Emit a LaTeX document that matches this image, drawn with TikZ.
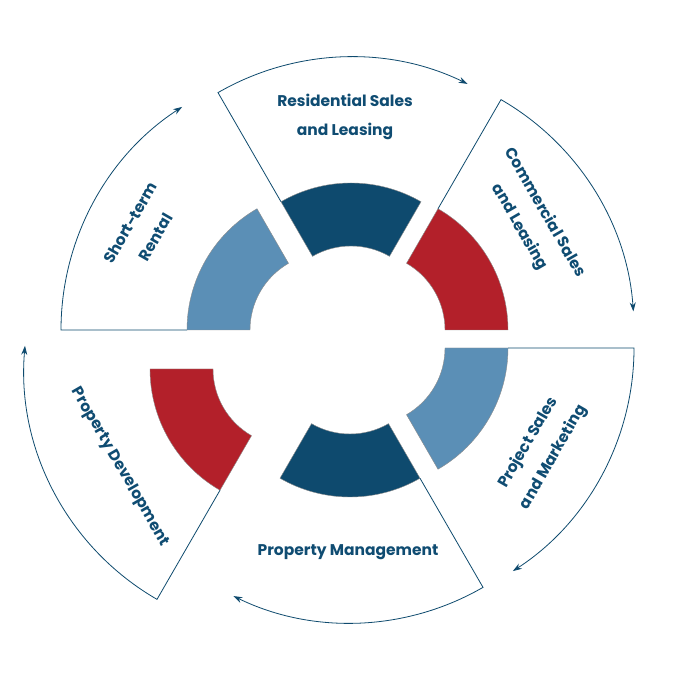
\documentclass[tikz,border=0pt]{standalone}
\usepackage{fontspec}
\setmainfont{Poppins}
\usetikzlibrary{arrows.meta}
\definecolor{dkb}{HTML}{0E4A6E}
\definecolor{rd}{HTML}{B3202A}
\definecolor{lb}{HTML}{5B8FB6}
\definecolor{txt}{HTML}{0F4C72}
\tikzset{
  seg/.style={draw=black!45, line width=0.4pt},
  rim/.style={draw=dkb, line width=0.8pt, -{Stealth[length=9pt,width=6pt]}},
  lab/.style={text=txt, font=\fontsize{15.5}{29}\selectfont\bfseries, align=center, inner sep=0pt}
}
\newcommand{\grp}[7]{% cx cy a1 a2 colour linestart arcend
  \begin{scope}[shift={(#1,#2)}]
    \fill[#5,seg] (#3:140) arc (#3:#4:140) -- (#4:77) arc (#4:#3:77) -- cycle;
    \draw[rim] (#6:140) -- (#6:266) arc (#6:#7:266);
  \end{scope}}
\begin{document}
\begin{tikzpicture}[x=1pt,y=1pt]
\useasboundingbox (0,0) rectangle (700,700);
\fill[white] (0,0) rectangle (700,700);
% Short-term (A)
\grp{327}{370}{120}{180}{lb}{180}{123}
% Residential (B)
\grp{351}{377}{60}{120}{dkb}{120}{64}
% Commercial (C)
\grp{368}{370}{0}{60}{rd}{60}{4}
% Project (D)
\grp{368}{352}{-60}{0}{lb}{0}{-57}
% Property Management (E)
\grp{350}{343}{-120}{-60}{dkb}{-60}{-116}
% Property Development (F)
\grp{290}{331}{180}{240}{rd}{240}{175}
\node[lab] (res) at (345,583) {Residential Sales\\and Leasing};
\node[lab, rotate=-60] (com) at (532,480) {Commercial Sales\\and Leasing};
\node[lab, rotate=60] (pro) at (541,250) {Project Sales\\and Marketing};
\node[lab, rotate=0] (pm) at (348,148) {Property Management};
\node[lab, rotate=-60] (pd) at (120,233) {Property Development};
\node[lab, rotate=60] (str) at (143,470) {Short-term\\Rental};
\end{tikzpicture}
\end{document}
